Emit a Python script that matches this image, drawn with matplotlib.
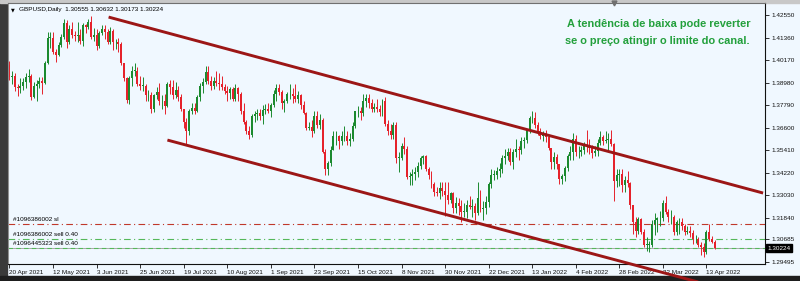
import numpy as np
import matplotlib
matplotlib.use("Agg")
import matplotlib.pyplot as plt
from matplotlib.patches import Rectangle

plt.rcParams['font.family'] = ['Liberation Sans', 'DejaVu Sans']

# GBPUSD daily bars, 20 Apr 2021 .. 18 Apr 2022
header_text = "GBPUSD,Daily  1.30555 1.30632 1.30173 1.30224"
date_labels = ["20 Apr 2021", "12 May 2021", "3 Jun 2021", "25 Jun 2021", "19 Jul 2021",
               "10 Aug 2021", "1 Sep 2021", "23 Sep 2021", "15 Oct 2021", "8 Nov 2021",
               "30 Nov 2021", "22 Dec 2021", "13 Jan 2022", "4 Feb 2022", "28 Feb 2022",
               "22 Mar 2022", "13 Apr 2022"]
bars_per_label = 16
price_ticks = [1.42550, 1.41360, 1.40170, 1.38980, 1.37790, 1.36600,
               1.35410, 1.34220, 1.33030, 1.31840, 1.30685, 1.29495]

first_open = 1.3990
closes = [
    1.3925, 1.3930, 1.3875, 1.3870, 1.3880, 1.3900, 1.3925, 1.3935, 1.3820, 1.3880,
    1.3890, 1.3905, 1.3895, 1.4000, 1.4135, 1.4135, 1.4060, 1.4045, 1.4095, 1.4140,
    1.4215, 1.4110, 1.4180, 1.4150, 1.4145, 1.4150, 1.4120, 1.4200, 1.4190, 1.4220,
    1.4140, 1.4150, 1.4090, 1.4160, 1.4180, 1.4165, 1.4110, 1.4170, 1.4110, 1.4110,
    1.4100, 1.4000, 1.3920, 1.3805, 1.3920, 1.3960, 1.3960, 1.3890, 1.3880, 1.3880,
    1.3830, 1.3830, 1.3760, 1.3830, 1.3850, 1.3800, 1.3800, 1.3775, 1.3890, 1.3875,
    1.3830, 1.3860, 1.3820, 1.3760, 1.3690, 1.3640, 1.3750, 1.3765, 1.3750, 1.3820,
    1.3880, 1.3900, 1.3955, 1.3905, 1.3880, 1.3905, 1.3895, 1.3890, 1.3875, 1.3855,
    1.3845, 1.3865, 1.3810, 1.3870, 1.3840, 1.3745, 1.3690, 1.3640, 1.3620, 1.3720,
    1.3730, 1.3735, 1.3720, 1.3755, 1.3760, 1.3750, 1.3780, 1.3840, 1.3870, 1.3850,
    1.3790, 1.3800, 1.3835, 1.3835, 1.3825, 1.3810, 1.3830, 1.3780, 1.3735, 1.3660,
    1.3665, 1.3640, 1.3720, 1.3675, 1.3700, 1.3530, 1.3440, 1.3475, 1.3540, 1.3615,
    1.3615, 1.3590, 1.3615, 1.3615, 1.3590, 1.3600, 1.3670, 1.3745, 1.3750, 1.3735,
    1.3800, 1.3815, 1.3790, 1.3760, 1.3770, 1.3760, 1.3740, 1.3800, 1.3680, 1.3640,
    1.3620, 1.3675, 1.3500, 1.3500, 1.3560, 1.3545, 1.3400, 1.3405, 1.3415, 1.3425,
    1.3455, 1.3500, 1.3510, 1.3440, 1.3410, 1.3360, 1.3320, 1.3315, 1.3340, 1.3325,
    1.3305, 1.3275, 1.3315, 1.3235, 1.3260, 1.3245, 1.3215, 1.3215, 1.3250, 1.3240,
    1.3245, 1.3210, 1.3290, 1.3230, 1.3235, 1.3265, 1.3360, 1.3410, 1.3410, 1.3430,
    1.3440, 1.3500, 1.3510, 1.3530, 1.3480, 1.3530, 1.3545, 1.3540, 1.3590, 1.3595,
    1.3645, 1.3710, 1.3710, 1.3675, 1.3640, 1.3615, 1.3620, 1.3610, 1.3550, 1.3480,
    1.3505, 1.3465, 1.3390, 1.3405, 1.3445, 1.3510, 1.3530, 1.3600, 1.3530, 1.3530,
    1.3540, 1.3565, 1.3555, 1.3550, 1.3525, 1.3535, 1.3580, 1.3610, 1.3590, 1.3595,
    1.3600, 1.3575, 1.3380, 1.3410, 1.3415, 1.3355, 1.3385, 1.3365, 1.3250, 1.3160,
    1.3115, 1.3175, 1.3110, 1.3040, 1.3040, 1.3040, 1.3150, 1.3170, 1.3180, 1.3180,
    1.3260, 1.3215, 1.3185, 1.3185, 1.3110, 1.3160, 1.3160, 1.3140, 1.3110, 1.3115,
    1.3105, 1.3070, 1.3070, 1.3040, 1.3030, 1.3000, 1.3110, 1.3070, 1.30555, 1.30224,
]
highs = [
    1.4010, 1.3960, 1.3950, 1.3890, 1.3920, 1.3920, 1.3950, 1.3970, 1.3945, 1.3900,
    1.3910, 1.3925, 1.3925, 1.4010, 1.4165, 1.4165, 1.4165, 1.4075, 1.4110, 1.4155,
    1.4235, 1.4230, 1.4200, 1.4220, 1.4170, 1.4220, 1.4180, 1.4215, 1.4210, 1.4235,
    1.4250, 1.4185, 1.4180, 1.4170, 1.4200, 1.4200, 1.4180, 1.4190, 1.4180, 1.4130,
    1.4135, 1.4110, 1.4000, 1.3925, 1.3935, 1.3985, 1.4000, 1.3980, 1.3930, 1.3925,
    1.3890, 1.3860, 1.3850, 1.3840, 1.3875, 1.3895, 1.3830, 1.3840, 1.3900, 1.3910,
    1.3910, 1.3900, 1.3880, 1.3840, 1.3760, 1.3710, 1.3760, 1.3790, 1.3790, 1.3830,
    1.3895, 1.3920, 1.3985, 1.3985, 1.3930, 1.3925, 1.3960, 1.3950, 1.3930, 1.3890,
    1.3880, 1.3875, 1.3875, 1.3890, 1.3875, 1.3850, 1.3790, 1.3700, 1.3670, 1.3730,
    1.3750, 1.3760, 1.3760, 1.3780, 1.3785, 1.3790, 1.3790, 1.3860, 1.3890, 1.3890,
    1.3860, 1.3810, 1.3850, 1.3890, 1.3870, 1.3890, 1.3855, 1.3840, 1.3800, 1.3740,
    1.3690, 1.3700, 1.3750, 1.3745, 1.3730, 1.3710, 1.3545, 1.3485, 1.3560, 1.3640,
    1.3640, 1.3620, 1.3640, 1.3670, 1.3640, 1.3630, 1.3690, 1.3750, 1.3775, 1.3770,
    1.3835, 1.3835, 1.3835, 1.3810, 1.3790, 1.3810, 1.3780, 1.3810, 1.3820, 1.3700,
    1.3680, 1.3690, 1.3690, 1.3530, 1.3580, 1.3610, 1.3560, 1.3425, 1.3440, 1.3450,
    1.3480, 1.3510, 1.3515, 1.3515, 1.3450, 1.3430, 1.3370, 1.3345, 1.3370, 1.3375,
    1.3370, 1.3370, 1.3320, 1.3320, 1.3295, 1.3290, 1.3275, 1.3260, 1.3275, 1.3300,
    1.3280, 1.3260, 1.3375, 1.3330, 1.3270, 1.3300, 1.3370, 1.3440, 1.3435, 1.3450,
    1.3475, 1.3515, 1.3545, 1.3550, 1.3550, 1.3545, 1.3600, 1.3565, 1.3610, 1.3610,
    1.3655, 1.3720, 1.3750, 1.3740, 1.3690, 1.3660, 1.3640, 1.3645, 1.3620, 1.3550,
    1.3530, 1.3520, 1.3470, 1.3415, 1.3455, 1.3520, 1.3560, 1.3630, 1.3620, 1.3560,
    1.3560, 1.3585, 1.3645, 1.3600, 1.3570, 1.3560, 1.3600, 1.3640, 1.3620, 1.3640,
    1.3630, 1.3645, 1.3580, 1.3440, 1.3440, 1.3440, 1.3405, 1.3430, 1.3375, 1.3230,
    1.3190, 1.3190, 1.3180, 1.3125, 1.3080, 1.3060, 1.3170, 1.3210, 1.3190, 1.3220,
    1.3275, 1.3300, 1.3230, 1.3225, 1.3200, 1.3170, 1.3180, 1.3180, 1.3150, 1.3140,
    1.3140, 1.3120, 1.3090, 1.3080, 1.3055, 1.3050, 1.3120, 1.3150, 1.3085, 1.30632,
]
lows = [
    1.3910, 1.3890, 1.3855, 1.3825, 1.3845, 1.3860, 1.3870, 1.3900, 1.3805, 1.3815,
    1.3800, 1.3870, 1.3835, 1.3890, 1.3995, 1.4080, 1.4050, 1.4005, 1.4040, 1.4085,
    1.4130, 1.4080, 1.4100, 1.4135, 1.4115, 1.4110, 1.4100, 1.4090, 1.4160, 1.4180,
    1.4130, 1.4120, 1.4070, 1.4080, 1.4150, 1.4130, 1.4100, 1.4100, 1.4070, 1.4075,
    1.4060, 1.3990, 1.3905, 1.3790, 1.3785, 1.3880, 1.3930, 1.3880, 1.3860, 1.3855,
    1.3800, 1.3800, 1.3735, 1.3740, 1.3810, 1.3780, 1.3760, 1.3730, 1.3770, 1.3835,
    1.3810, 1.3815, 1.3800, 1.3750, 1.3660, 1.3575, 1.3620, 1.3730, 1.3730, 1.3740,
    1.3800, 1.3845, 1.3890, 1.3890, 1.3860, 1.3865, 1.3880, 1.3860, 1.3860, 1.3840,
    1.3800, 1.3810, 1.3800, 1.3800, 1.3800, 1.3730, 1.3680, 1.3625, 1.3600, 1.3610,
    1.3690, 1.3700, 1.3700, 1.3680, 1.3730, 1.3735, 1.3715, 1.3770, 1.3800, 1.3830,
    1.3760, 1.3740, 1.3790, 1.3810, 1.3790, 1.3795, 1.3790, 1.3760, 1.3730, 1.3645,
    1.3645, 1.3610, 1.3630, 1.3660, 1.3655, 1.3525, 1.3410, 1.3410, 1.3455, 1.3540,
    1.3570, 1.3545, 1.3570, 1.3590, 1.3570, 1.3560, 1.3590, 1.3660, 1.3715, 1.3700,
    1.3720, 1.3770, 1.3765, 1.3740, 1.3740, 1.3740, 1.3720, 1.3720, 1.3670, 1.3620,
    1.3600, 1.3600, 1.3475, 1.3425, 1.3490, 1.3520, 1.3390, 1.3355, 1.3355, 1.3385,
    1.3400, 1.3440, 1.3470, 1.3430, 1.3390, 1.3340, 1.3300, 1.3300, 1.3280, 1.3300,
    1.3195, 1.3255, 1.3260, 1.3210, 1.3210, 1.3200, 1.3160, 1.3190, 1.3180, 1.3230,
    1.3190, 1.3170, 1.3200, 1.3215, 1.3170, 1.3205, 1.3240, 1.3340, 1.3385, 1.3390,
    1.3400, 1.3420, 1.3470, 1.3490, 1.3460, 1.3440, 1.3505, 1.3490, 1.3520, 1.3550,
    1.3580, 1.3630, 1.3685, 1.3660, 1.3620, 1.3600, 1.3590, 1.3585, 1.3540, 1.3440,
    1.3440, 1.3440, 1.3360, 1.3360, 1.3380, 1.3430, 1.3490, 1.3490, 1.3510, 1.3500,
    1.3510, 1.3520, 1.3530, 1.3520, 1.3500, 1.3510, 1.3510, 1.3570, 1.3570, 1.3580,
    1.3535, 1.3560, 1.3270, 1.3345, 1.3350, 1.3320, 1.3320, 1.3345, 1.3230, 1.3100,
    1.3080, 1.3100, 1.3100, 1.3030, 1.3010, 1.3000, 1.3030, 1.3090, 1.3110, 1.3140,
    1.3165, 1.3205, 1.3160, 1.3150, 1.3090, 1.3090, 1.3100, 1.3120, 1.3090, 1.3095,
    1.3080, 1.3045, 1.3050, 1.3030, 1.2985, 1.2975, 1.2990, 1.3060, 1.3050, 1.30173,
]

# trend channel drawn on the chart (bar index, price)
upper_x = [36.4, 276.8]
upper_y = [1.4244, 1.3314]
lower_x = [58.0, 262.0]
lower_y = [1.3594, 1.2809]

# order lines
sl_price = 1.3150
sell1_price = 1.30685
sell2_price = 1.3025
bid_price = 1.30224
order_labels = ["#1096386002 sl", "#1096386002 sell 0.40", "#1096445323 sell 0.40"]

note_lines = ["A tendência de baixa pode reverter",
              "se o preço atingir o limite do canal."]

bg = '#f0f8ff'
bull = '#1b8a2f'
bear = '#e5222b'
small = 4.6

closes = np.array(closes)
highs = np.array(highs)
lows = np.array(lows)
opens = np.concatenate([[first_open], closes[:-1]])
x = np.arange(len(closes))

fig = plt.figure(figsize=(8, 2.81), dpi=100, facecolor=bg)
ax = fig.add_axes([8 / 800, 1 - 264 / 281, 757 / 800, 261 / 281])
ax.set_facecolor(bg)

# window chrome
fig.patches.append(Rectangle((0, 0), 7 / 800, 1, transform=fig.transFigure,
                             color='#3a3a3a', zorder=-1))
fig.patches.append(Rectangle((0, 0), 1, 5 / 281, transform=fig.transFigure,
                             color='#1e1e1e', zorder=-1))
fig.patches.append(Rectangle((0, 1 - 3 / 281), 1, 3 / 281, transform=fig.transFigure,
                             color='#c8c8c8', zorder=-1))

# candles
colors = np.where(closes >= opens, bull, bear)
ax.vlines(x, lows, highs, colors=colors, lw=0.7, zorder=2)
body = np.maximum(np.abs(closes - opens), 0.0003)
ax.bar(x, body, bottom=np.minimum(opens, closes), width=0.72, color=colors,
       linewidth=0, zorder=3)

# order lines
ax.axhline(sl_price, color='#c0392b', lw=0.8, ls=(0, (6, 3, 1, 3)), zorder=1)
ax.axhline(sell1_price, color='#55b85a', lw=0.8, ls=(0, (6, 3, 1, 3)), zorder=1)
ax.axhline(bid_price, color='#a8a8a8', lw=0.7, zorder=1)
ax.axhline(sell2_price, color='#55b85a', lw=0.8, ls=(0, (4, 3)), zorder=1)
tr = ax.get_yaxis_transform()
for lbl, price, dy in zip(order_labels, [sl_price, sell1_price, sell2_price],
                          [0.0012, 0.0012, 0.0008]):
    ax.text(0.006, price + dy, lbl, transform=tr, fontsize=small, va='bottom', zorder=4)

# channel
ax.plot(upper_x, upper_y, color='#9c1616', lw=2.1, solid_capstyle='butt', zorder=4)
ax.plot(lower_x, lower_y, color='#9c1616', lw=2.1, solid_capstyle='butt', zorder=4,
        clip_on=False)

ax.set_xlim(-0.55, 277.5)
ax.set_ylim(1.29390, 1.43184)

# axes
ax.yaxis.tick_right()
ax.set_yticks(price_ticks)
ax.set_yticklabels([f"{p:.5f}" for p in price_ticks])
ax.tick_params(axis='y', labelsize=small, length=3, width=0.6, pad=1.5, colors='#111111')
ax.set_xticks(np.arange(len(date_labels)) * bars_per_label)
ax.set_xticklabels(date_labels)
for t in ax.get_xticklabels():
    t.set_ha('left')
ax.tick_params(axis='x', labelsize=small, length=3, width=0.6, pad=1.5, colors='#111111')
for side in ['bottom', 'right']:
    ax.spines[side].set_color('#111111')
    ax.spines[side].set_linewidth(0.8)
ax.spines['left'].set_color('#909090')
ax.spines['top'].set_color('#707070')

# current price box
ax.text(1.003, bid_price, f"{bid_price:.5f}", transform=tr, fontsize=small,
        color='white', va='center', ha='left',
        bbox=dict(facecolor='black', edgecolor='black', pad=0.9), zorder=5)

# header
ax.text(0.0045, 0.982, "\u25bc", transform=ax.transAxes, fontsize=3.5, va='top',
        family=['DejaVu Sans'])
ax.text(0.0145, 0.985, header_text, transform=ax.transAxes, fontsize=small, va='top')
ax.plot([0.80], [1.0], marker='v', color='#707070', ms=3.5, transform=ax.transAxes,
        clip_on=False)

# note
ax.text((567 - 8) / 757, 1 - (24 - 3) / 261, note_lines[0], transform=ax.transAxes,
        fontsize=7.9, fontweight='bold', color='#23a03c', va='center', ha='left')
ax.text((565 - 8) / 757, 1 - (41 - 3) / 261, note_lines[1], transform=ax.transAxes,
        fontsize=7.9, fontweight='bold', color='#23a03c', va='center', ha='left')

fig.savefig('out.png', dpi=100, facecolor=bg)
